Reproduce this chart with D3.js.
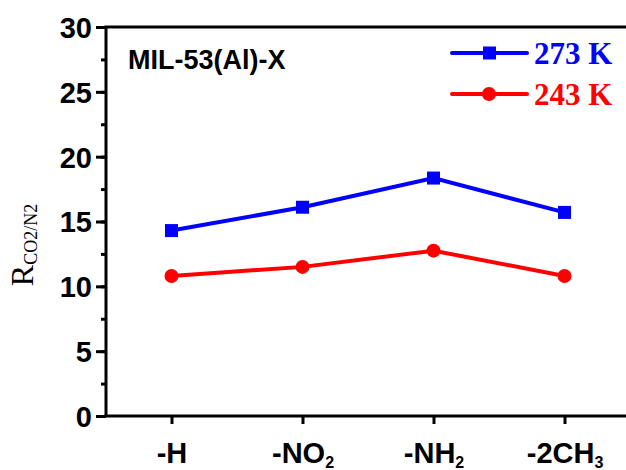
<!DOCTYPE html>
<html lang="en">
<head>
    <meta charset="UTF-8">
    <title>MIL-53(Al)-X selectivity</title>
    <script src="https://d3js.org/d3.v7.min.js"></script>
    <style>
        body { margin: 0; background: #fff; }
        .tick text { font-family: Arial, "Liberation Sans", sans-serif; font-weight: bold; }
    </style>
</head>
<body>
<div id="chart"></div>
<script>
// categories and values
const categories = ["-H", "-NO2", "-NH2", "-2CH3"];
const catLabels = [["-H", ""], ["-NO", "2"], ["-NH", "2"], ["-2CH", "3"]];
const values273 = [14.3, 16.1, 18.35, 15.7];
const values243 = [10.8, 11.5, 12.75, 10.8];
const yTicks = [0, 5, 10, 15, 20, 25, 30];

const width = 626, height = 470;
const plotLeft = 106, plotTop = 27, plotBottom = 416, plotRight = 630;

const svg = d3.select("#chart").append("svg")
    .attr("width", width)
    .attr("height", height);

const x = d3.scalePoint()
    .domain(categories)
    .range([plotLeft, plotRight])
    .padding(0.5);

const y = d3.scaleLinear().domain([0, 30]).range([plotBottom, plotTop]);

// y axis with minor ticks
svg.append("g")
    .attr("transform", `translate(${plotLeft},0)`)
    .call(d3.axisLeft(y).tickValues(d3.range(0, 30.1, 2.5)).tickSize(5).tickFormat(""))
    .call(g => g.select(".domain").remove())
    .selectAll("line").attr("stroke-width", 3);

const yAxis = svg.append("g")
    .attr("transform", `translate(${plotLeft},0)`)
    .call(d3.axisLeft(y).tickValues(yTicks).tickSize(10).tickPadding(4));
yAxis.select(".domain").remove();
yAxis.selectAll("line").attr("stroke-width", 3);
yAxis.selectAll("text").attr("font-size", 29).attr("dy", "0.36em");

// x axis
const xAxis = svg.append("g")
    .attr("transform", `translate(0,${plotBottom})`)
    .call(d3.axisBottom(x).tickSize(8).tickFormat(""));
xAxis.select(".domain").remove();
xAxis.selectAll("line").attr("stroke-width", 3);

xAxis.selectAll(".tick").append("text")
    .attr("y", 47)
    .attr("fill", "#000")
    .attr("font-size", 29)
    .attr("text-anchor", "middle")
    .each(function(d, i) {
        const t = d3.select(this);
        t.append("tspan").text(catLabels[i][0]);
        if (catLabels[i][1]) {
            t.append("tspan").attr("font-size", 16).attr("dy", 5).text(catLabels[i][1]);
        }
    });

// frame lines (left, bottom, top)
svg.append("line").attr("x1", plotLeft).attr("x2", plotLeft).attr("y1", plotTop).attr("y2", plotBottom)
    .attr("stroke", "#000").attr("stroke-width", 3);
svg.append("line").attr("x1", plotLeft - 1.5).attr("x2", plotRight).attr("y1", plotBottom).attr("y2", plotBottom)
    .attr("stroke", "#000").attr("stroke-width", 3);
svg.append("line").attr("x1", plotLeft - 1.5).attr("x2", plotRight).attr("y1", plotTop).attr("y2", plotTop)
    .attr("stroke", "#000").attr("stroke-width", 3);

const line = d3.line().x((d, i) => x(categories[i])).y(d => y(d));

// 243 K series
svg.append("path").datum(values243)
    .attr("d", line).attr("fill", "none").attr("stroke", "#ff0000").attr("stroke-width", 4);
svg.selectAll(".c243").data(values243).enter().append("circle")
    .attr("cx", (d, i) => x(categories[i])).attr("cy", d => y(d))
    .attr("r", 7).attr("fill", "#ff0000");

// 273 K series
svg.append("path").datum(values273)
    .attr("d", line).attr("fill", "none").attr("stroke", "#0000ff").attr("stroke-width", 4);
svg.selectAll(".s273").data(values273).enter().append("rect")
    .attr("x", (d, i) => x(categories[i]) - 6.5).attr("y", d => y(d) - 6.5)
    .attr("width", 13).attr("height", 13).attr("fill", "#0000ff");

// title
svg.append("text").attr("x", 128).attr("y", 69)
    .attr("font-family", "Arial, 'Liberation Sans', sans-serif")
    .attr("font-weight", "bold").attr("font-size", 27)
    .text("MIL-53(Al)-X");

// legend
const legend = [
    { label: "273 K", color: "#0000ff", marker: "square", y: 53 },
    { label: "243 K", color: "#ff0000", marker: "circle", y: 94 }
];
legend.forEach(l => {
    svg.append("line").attr("x1", 452).attr("x2", 527).attr("y1", l.y).attr("y2", l.y)
        .attr("stroke", l.color).attr("stroke-width", 4).attr("stroke-linecap", "round");
    if (l.marker === "square") {
        svg.append("rect").attr("x", 483).attr("y", l.y - 6.5).attr("width", 13).attr("height", 13).attr("fill", l.color);
    } else {
        svg.append("circle").attr("cx", 489).attr("cy", l.y).attr("r", 7).attr("fill", l.color);
    }
    svg.append("text").attr("x", 534).attr("y", l.y + 11)
        .attr("font-family", "'Liberation Serif', 'Times New Roman', serif")
        .attr("font-weight", "bold").attr("font-size", 31)
        .attr("fill", l.color).text(l.label);
});

// y axis label
const yl = svg.append("text")
    .attr("transform", "translate(33,245) rotate(-90)")
    .attr("text-anchor", "middle")
    .attr("font-family", "'Liberation Serif', 'Times New Roman', serif")
    .attr("font-size", 32);
yl.append("tspan").text("R");
yl.append("tspan").attr("font-size", 18).attr("dy", 4).text("CO2/N2");
</script>
</body>
</html>
